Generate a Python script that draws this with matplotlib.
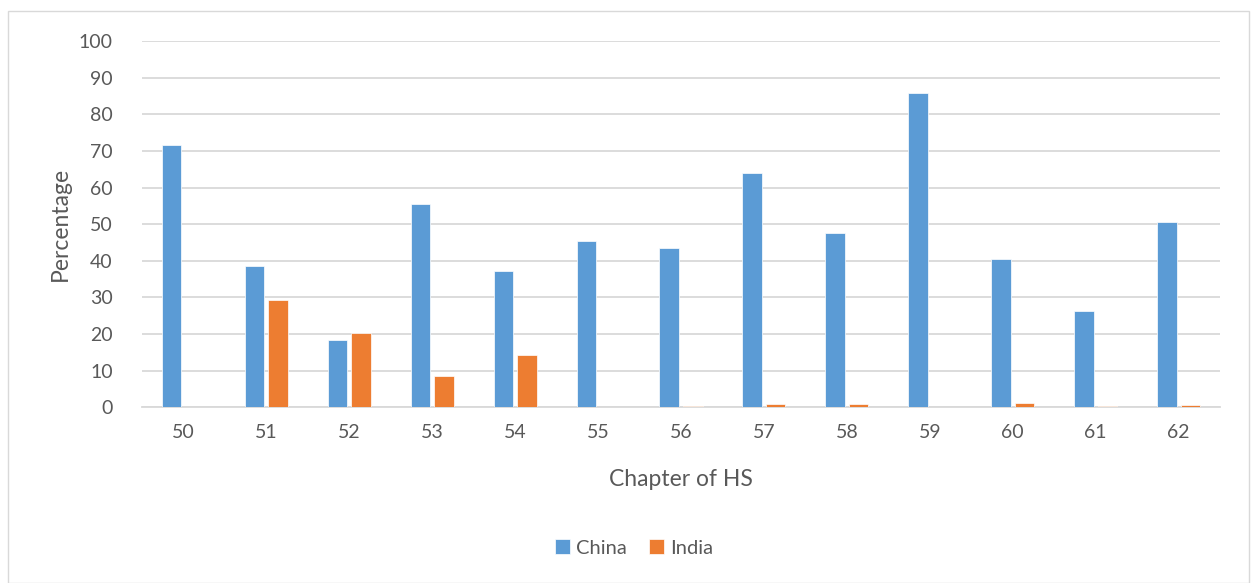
import matplotlib
matplotlib.use("Agg")
import matplotlib.pyplot as plt
import numpy as np
from matplotlib.patches import Rectangle

chapters = ["50", "51", "52", "53", "54", "55", "56", "57", "58", "59", "60", "61", "62"]
china = [71.5, 38.6, 18.5, 55.5, 37.1, 45.4, 43.5, 63.9, 47.6, 85.9, 40.5, 26.3, 50.5]
india = [0.0, 29.4, 20.4, 8.5, 14.2, 0.0, 0.35, 0.9, 0.9, 0.0, 1.2, 0.35, 0.6]

plt.rcParams['font.family'] = ['Lato', 'DejaVu Sans']
txt = '#595959'
W, H = 1256, 583
fig = plt.figure(figsize=(W / 100, H / 100), dpi=100)
fig.patches.append(Rectangle((8 / W, 0), (1249 - 8) / W, (H - 11) / H, transform=fig.transFigure,
                             fill=False, edgecolor='#d9d9d9', linewidth=1.0))
ax = fig.add_axes([142 / W, 1 - 407.3 / H, (1220 - 142) / W, (407.3 - 41) / H])

x = np.arange(len(chapters))
bw = 0.235
off = 0.142
ax.bar(x - off, china, bw, color='#5b9bd5', edgecolor='white', linewidth=0.5, label='China', zorder=3)
ax.bar(x + off, india, bw, color='#ed7d31', edgecolor='white', linewidth=0.5, label='India', zorder=3)

ax.set_xlim(-0.5, len(chapters) - 0.5)
ax.set_ylim(0, 100)
ax.set_yticks(range(0, 101, 10))
ax.set_xticks(x)
ax.set_xticklabels(chapters)
ax.yaxis.grid(True, color='#d9d9d9', linewidth=1.3, zorder=0)
ax.set_axisbelow(True)
for s in ['top', 'right', 'left']:
    ax.spines[s].set_visible(False)
ax.spines['bottom'].set_color('#d9d9d9')
ax.spines['bottom'].set_linewidth(1.3)
ax.tick_params(axis='both', length=0, labelsize=14, labelcolor=txt)
ax.tick_params(axis='y', pad=21)
ax.tick_params(axis='x', pad=12)
ax.set_xlabel('Chapter of HS', fontsize=16.5, color=txt, labelpad=20)
ax.set_ylabel('Percentage', fontsize=16.5, color=txt, labelpad=6)

leg = fig.legend(loc='center', bbox_to_anchor=(634 / W, 1 - 548 / H), ncol=2, frameon=False,
                 fontsize=14.5, handlelength=0.75, handleheight=0.75, handletextpad=0.3,
                 columnspacing=1.1)
for t in leg.get_texts():
    t.set_color(txt)

fig.savefig('out.png', dpi=100)
